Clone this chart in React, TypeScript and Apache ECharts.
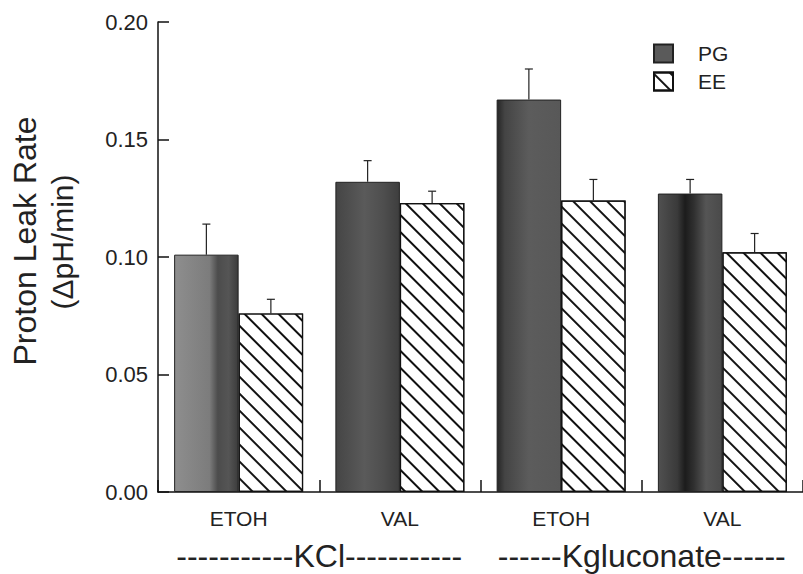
import React, { useEffect, useRef } from "react";
import * as echarts from "echarts";

const categories = ["ETOH", "VAL", "ETOH", "VAL"];
const groupLabels = ["-----------KCl-----------", "------Kgluconate------"];
const seriesNames = ["PG", "EE"];
const pgValues = [0.101, 0.132, 0.167, 0.127];
const pgSem = [0.013, 0.009, 0.013, 0.006];
const eeValues = [0.076, 0.123, 0.124, 0.102];
const eeSem = [0.006, 0.005, 0.009, 0.008];

const FONT = "'Liberation Sans', Arial, Helvetica, sans-serif";
const TEXT = "#222";

// horizontal shading of each PG bar (style only)
const pgShades: [number, string][][] = [
  [[0, "#8e8e8e"], [0.55, "#7c7c7c"], [0.68, "#4c4c4c"], [0.85, "#555"], [1, "#3c3c3c"]],
  [[0, "#454545"], [0.45, "#5a5a5a"], [0.75, "#4e4e4e"], [1, "#3e3e3e"]],
  [[0, "#262626"], [0.12, "#444"], [0.5, "#5c5c5c"], [1, "#585858"]],
  [[0, "#505050"], [0.3, "#3a3a3a"], [0.42, "#1c1c1c"], [0.56, "#303030"], [0.75, "#555"], [1, "#4a4a4a"]],
];

function grad(stops: [number, string][]) {
  return new echarts.graphic.LinearGradient(
    0, 0, 1, 0,
    stops.map(([offset, color]) => ({ offset, color }))
  );
}

function errorSeries(values: number[], sem: number[], side: number) {
  return {
    type: "custom",
    z: 10,
    silent: true,
    data: values.map((v, i) => [i, v, v + sem[i]]),
    renderItem: (params: any, api: any) => {
      const base = api.coord([api.value(0), api.value(1)]);
      const top = api.coord([api.value(0), api.value(2)]);
      const band = api.size([1, 0])[0];
      const x = base[0] + side * band * 0.2;
      const style = { stroke: "#222", lineWidth: 1.2 };
      return {
        type: "group",
        children: [
          { type: "line", shape: { x1: x, y1: base[1], x2: x, y2: top[1] }, style },
          { type: "line", shape: { x1: x - 4, y1: top[1], x2: x + 4, y2: top[1] }, style },
        ],
      };
    },
  };
}

export default function App() {
  const ref = useRef<HTMLDivElement>(null);
  useEffect(() => {
    if (!ref.current) return;
    const chart = echarts.init(ref.current, null, { renderer: "svg" });
    const hatch = {
      symbol: "rect",
      symbolSize: 1,
      dashArrayX: [1, 0],
      dashArrayY: [1.4, 9.4],
      rotation: Math.PI / 4,
      color: "#111",
    };
    chart.setOption({
      animation: false,
      backgroundColor: "#fff",
      textStyle: { fontFamily: FONT },
      grid: { left: 158, top: 22, width: 648, height: 470, containLabel: false },
      legend: {
        orient: "vertical",
        left: 648,
        top: 38,
        icon: "rect",
        itemWidth: 19,
        itemHeight: 18,
        itemGap: 7,
        data: seriesNames,
        textStyle: { fontSize: 21, color: TEXT, fontFamily: FONT, padding: [0, 0, 0, 20] },
      },
      xAxis: [
        {
          type: "category",
          data: categories,
          axisLine: { show: true, lineStyle: { color: "#111", width: 1.5 } },
          axisTick: { show: true, inside: true, length: 12, lineStyle: { color: "#111", width: 1.5 } },
          axisLabel: { fontSize: 21, color: TEXT, margin: 16, fontFamily: FONT, interval: 0 },
          splitLine: { show: false },
        },
        {
          type: "category",
          position: "bottom",
          offset: 40,
          data: groupLabels,
          axisLine: { show: false },
          axisTick: { show: false },
          axisLabel: { fontSize: 32, color: TEXT, margin: 8, fontFamily: FONT, interval: 0, hideOverlap: false },
          splitLine: { show: false },
        },
      ],
      yAxis: {
        type: "value",
        min: 0,
        max: 0.2,
        interval: 0.05,
        axisLine: { show: true, lineStyle: { color: "#111", width: 1.5 } },
        axisTick: { show: true, inside: true, length: 11, lineStyle: { color: "#111", width: 1.5 } },
        axisLabel: {
          fontSize: 22,
          color: TEXT,
          margin: 10,
          fontFamily: FONT,
          formatter: (v: number) => v.toFixed(2),
        },
        splitLine: { show: false },
      },
      graphic: [
        {
          type: "text",
          x: 25,
          y: 241,
          rotation: Math.PI / 2,
          style: {
            text: "Proton Leak Rate",
            fontSize: 32,
            fontFamily: FONT,
            fill: TEXT,
            align: "center",
            verticalAlign: "middle",
            textAlign: "center",
            textVerticalAlign: "middle",
          },
        },
        {
          type: "text",
          x: 62,
          y: 242,
          rotation: Math.PI / 2,
          style: {
            text: "(ΔpH/min)",
            fontSize: 30,
            fontFamily: FONT,
            fill: TEXT,
            align: "center",
            verticalAlign: "middle",
            textAlign: "center",
            textVerticalAlign: "middle",
          },
        },
      ],
      series: [
        {
          name: "PG",
          type: "bar",
          barGap: "0%",
          barCategoryGap: "20%",
          itemStyle: { color: "#5a5a5a", borderColor: "#222", borderWidth: 1 },
          data: pgValues.map((v, i) => ({ value: v, itemStyle: { color: grad(pgShades[i]) } })),
        },
        {
          name: "EE",
          type: "bar",
          barGap: "0%",
          barCategoryGap: "20%",
          itemStyle: { color: "#fff", borderColor: "#111", borderWidth: 1.2, decal: hatch },
          data: eeValues,
        },
        errorSeries(pgValues, pgSem, -1),
        errorSeries(eeValues, eeSem, 1),
      ],
    });
    return () => chart.dispose();
  }, []);
  return (
    <div
      ref={ref}
      style={{ position: "absolute", left: 0, top: 0, width: 803, height: 574, background: "#fff" }}
    />
  );
}
